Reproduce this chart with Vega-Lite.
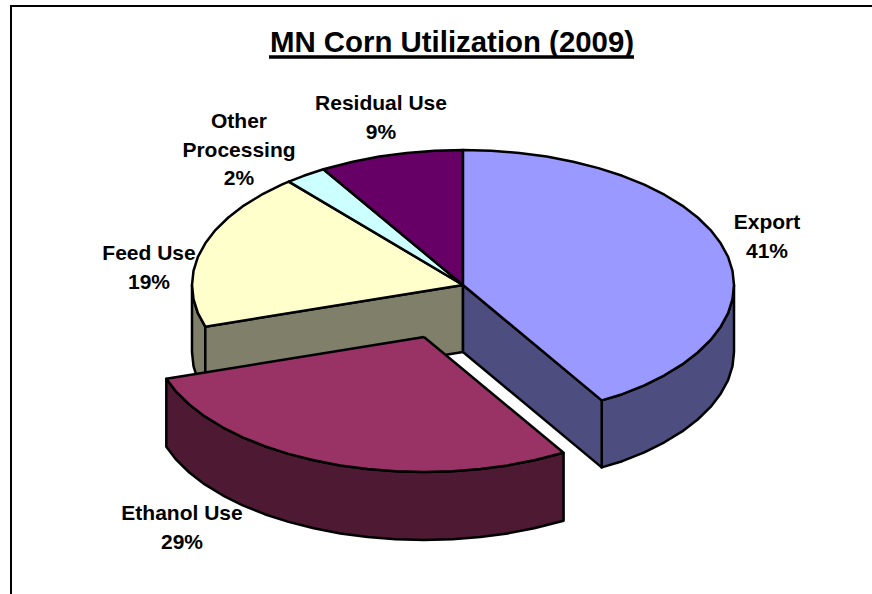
{"$schema":"https://vega.github.io/schema/vega-lite/v6.json","width":872,"height":594,"padding":0,"autosize":{"type":"none"},"background":"white","config":{"view":{"stroke":null}},
"datasets":{"shapes":[
{"p":"Feed wall","i":1,"x":205.3,"y":326.7},{"p":"Feed wall","i":2,"x":197.9,"y":313.1},{"p":"Feed wall","i":3,"x":193.5,"y":299.1},{"p":"Feed wall","i":4,"x":192,"y":285},{"p":"Feed wall","i":5,"x":192,"y":352},{"p":"Feed wall","i":6,"x":193.5,"y":366.1},{"p":"Feed wall","i":7,"x":197.9,"y":380.1},{"p":"Feed wall","i":8,"x":205.3,"y":393.7},{"p":"Feed wall","i":9,"x":205.3,"y":326.7},
{"p":"Feed cut","i":1,"x":463,"y":285},{"p":"Feed cut","i":2,"x":205.3,"y":326.7},{"p":"Feed cut","i":3,"x":205.3,"y":393.7},{"p":"Feed cut","i":4,"x":463,"y":352},{"p":"Feed cut","i":5,"x":463,"y":285},
{"p":"Feed Use","i":1,"x":463,"y":285},{"p":"Feed Use","i":2,"x":205.3,"y":326.7},{"p":"Feed Use","i":3,"x":197.9,"y":313.1},{"p":"Feed Use","i":4,"x":193.5,"y":299.1},{"p":"Feed Use","i":5,"x":192,"y":285},{"p":"Feed Use","i":6,"x":193.5,"y":270.9},{"p":"Feed Use","i":7,"x":197.9,"y":256.9},{"p":"Feed Use","i":8,"x":205.3,"y":243.3},{"p":"Feed Use","i":9,"x":215.4,"y":230.1},{"p":"Feed Use","i":10,"x":228.3,"y":217.5},{"p":"Feed Use","i":11,"x":243.8,"y":205.6},{"p":"Feed Use","i":12,"x":261.6,"y":194.7},{"p":"Feed Use","i":13,"x":281.7,"y":184.7},{"p":"Feed Use","i":14,"x":288.8,"y":181.6},{"p":"Feed Use","i":15,"x":463,"y":285},
{"p":"Other Processing","i":1,"x":463,"y":285},{"p":"Other Processing","i":2,"x":288.8,"y":181.6},{"p":"Other Processing","i":3,"x":303.7,"y":175.8},{"p":"Other Processing","i":4,"x":323.4,"y":169.3},{"p":"Other Processing","i":5,"x":463,"y":285},
{"p":"Residual Use","i":1,"x":463,"y":285},{"p":"Residual Use","i":2,"x":323.4,"y":169.3},{"p":"Residual Use","i":3,"x":352.8,"y":161.7},{"p":"Residual Use","i":4,"x":379.3,"y":156.6},{"p":"Residual Use","i":5,"x":406.7,"y":153},{"p":"Residual Use","i":6,"x":434.7,"y":150.7},{"p":"Residual Use","i":7,"x":463,"y":150},{"p":"Residual Use","i":8,"x":463,"y":285},
{"p":"Export wall","i":1,"x":734,"y":285},{"p":"Export wall","i":2,"x":732.5,"y":299.1},{"p":"Export wall","i":3,"x":728.1,"y":313.1},{"p":"Export wall","i":4,"x":720.7,"y":326.7},{"p":"Export wall","i":5,"x":710.6,"y":339.9},{"p":"Export wall","i":6,"x":697.7,"y":352.5},{"p":"Export wall","i":7,"x":682.2,"y":364.4},{"p":"Export wall","i":8,"x":664.4,"y":375.3},{"p":"Export wall","i":9,"x":644.3,"y":385.3},{"p":"Export wall","i":10,"x":622.3,"y":394.2},{"p":"Export wall","i":11,"x":601.7,"y":400.4},{"p":"Export wall","i":12,"x":601.7,"y":467.4},{"p":"Export wall","i":13,"x":622.3,"y":461.2},{"p":"Export wall","i":14,"x":644.3,"y":452.3},{"p":"Export wall","i":15,"x":664.4,"y":442.3},{"p":"Export wall","i":16,"x":682.2,"y":431.4},{"p":"Export wall","i":17,"x":697.7,"y":419.5},{"p":"Export wall","i":18,"x":710.6,"y":406.9},{"p":"Export wall","i":19,"x":720.7,"y":393.7},{"p":"Export wall","i":20,"x":728.1,"y":380.1},{"p":"Export wall","i":21,"x":732.5,"y":366.1},{"p":"Export wall","i":22,"x":734,"y":352},{"p":"Export wall","i":23,"x":734,"y":285},
{"p":"Export cut","i":1,"x":463,"y":285},{"p":"Export cut","i":2,"x":601.7,"y":400.4},{"p":"Export cut","i":3,"x":601.7,"y":467.4},{"p":"Export cut","i":4,"x":463,"y":352},{"p":"Export cut","i":5,"x":463,"y":285},
{"p":"Export","i":1,"x":463,"y":285},{"p":"Export","i":2,"x":463,"y":150},{"p":"Export","i":3,"x":491.3,"y":150.7},{"p":"Export","i":4,"x":519.3,"y":153},{"p":"Export","i":5,"x":546.7,"y":156.6},{"p":"Export","i":6,"x":573.2,"y":161.7},{"p":"Export","i":7,"x":598.5,"y":168.1},{"p":"Export","i":8,"x":622.3,"y":175.8},{"p":"Export","i":9,"x":644.3,"y":184.7},{"p":"Export","i":10,"x":664.4,"y":194.7},{"p":"Export","i":11,"x":682.2,"y":205.6},{"p":"Export","i":12,"x":697.7,"y":217.5},{"p":"Export","i":13,"x":710.6,"y":230.1},{"p":"Export","i":14,"x":720.7,"y":243.3},{"p":"Export","i":15,"x":728.1,"y":256.9},{"p":"Export","i":16,"x":732.5,"y":270.9},{"p":"Export","i":17,"x":734,"y":285},{"p":"Export","i":18,"x":732.5,"y":299.1},{"p":"Export","i":19,"x":728.1,"y":313.1},{"p":"Export","i":20,"x":720.7,"y":326.7},{"p":"Export","i":21,"x":710.6,"y":339.9},{"p":"Export","i":22,"x":697.7,"y":352.5},{"p":"Export","i":23,"x":682.2,"y":364.4},{"p":"Export","i":24,"x":664.4,"y":375.3},{"p":"Export","i":25,"x":644.3,"y":385.3},{"p":"Export","i":26,"x":622.3,"y":394.2},{"p":"Export","i":27,"x":601.7,"y":400.4},{"p":"Export","i":28,"x":463,"y":285},
{"p":"Ethanol wall","i":1,"x":563.6,"y":452.7},{"p":"Ethanol wall","i":2,"x":534.2,"y":460.3},{"p":"Ethanol wall","i":3,"x":507.7,"y":465.4},{"p":"Ethanol wall","i":4,"x":480.3,"y":469},{"p":"Ethanol wall","i":5,"x":452.3,"y":471.3},{"p":"Ethanol wall","i":6,"x":424,"y":472},{"p":"Ethanol wall","i":7,"x":395.7,"y":471.3},{"p":"Ethanol wall","i":8,"x":367.7,"y":469},{"p":"Ethanol wall","i":9,"x":340.3,"y":465.4},{"p":"Ethanol wall","i":10,"x":313.8,"y":460.3},{"p":"Ethanol wall","i":11,"x":288.5,"y":453.9},{"p":"Ethanol wall","i":12,"x":264.7,"y":446.2},{"p":"Ethanol wall","i":13,"x":242.7,"y":437.3},{"p":"Ethanol wall","i":14,"x":222.6,"y":427.3},{"p":"Ethanol wall","i":15,"x":204.8,"y":416.4},{"p":"Ethanol wall","i":16,"x":189.3,"y":404.5},{"p":"Ethanol wall","i":17,"x":176.4,"y":391.9},{"p":"Ethanol wall","i":18,"x":166.3,"y":378.7},{"p":"Ethanol wall","i":19,"x":166.3,"y":446.7},{"p":"Ethanol wall","i":20,"x":176.4,"y":459.9},{"p":"Ethanol wall","i":21,"x":189.3,"y":472.5},{"p":"Ethanol wall","i":22,"x":204.8,"y":484.4},{"p":"Ethanol wall","i":23,"x":222.6,"y":495.3},{"p":"Ethanol wall","i":24,"x":242.7,"y":505.3},{"p":"Ethanol wall","i":25,"x":264.7,"y":514.2},{"p":"Ethanol wall","i":26,"x":288.5,"y":521.9},{"p":"Ethanol wall","i":27,"x":313.8,"y":528.3},{"p":"Ethanol wall","i":28,"x":340.3,"y":533.4},{"p":"Ethanol wall","i":29,"x":367.7,"y":537},{"p":"Ethanol wall","i":30,"x":395.7,"y":539.3},{"p":"Ethanol wall","i":31,"x":424,"y":540},{"p":"Ethanol wall","i":32,"x":452.3,"y":539.3},{"p":"Ethanol wall","i":33,"x":480.3,"y":537},{"p":"Ethanol wall","i":34,"x":507.7,"y":533.4},{"p":"Ethanol wall","i":35,"x":534.2,"y":528.3},{"p":"Ethanol wall","i":36,"x":563.6,"y":520.7},{"p":"Ethanol wall","i":37,"x":563.6,"y":452.7},
{"p":"Ethanol Use","i":1,"x":424,"y":337},{"p":"Ethanol Use","i":2,"x":563.6,"y":452.7},{"p":"Ethanol Use","i":3,"x":534.2,"y":460.3},{"p":"Ethanol Use","i":4,"x":507.7,"y":465.4},{"p":"Ethanol Use","i":5,"x":480.3,"y":469},{"p":"Ethanol Use","i":6,"x":452.3,"y":471.3},{"p":"Ethanol Use","i":7,"x":424,"y":472},{"p":"Ethanol Use","i":8,"x":395.7,"y":471.3},{"p":"Ethanol Use","i":9,"x":367.7,"y":469},{"p":"Ethanol Use","i":10,"x":340.3,"y":465.4},{"p":"Ethanol Use","i":11,"x":313.8,"y":460.3},{"p":"Ethanol Use","i":12,"x":288.5,"y":453.9},{"p":"Ethanol Use","i":13,"x":264.7,"y":446.2},{"p":"Ethanol Use","i":14,"x":242.7,"y":437.3},{"p":"Ethanol Use","i":15,"x":222.6,"y":427.3},{"p":"Ethanol Use","i":16,"x":204.8,"y":416.4},{"p":"Ethanol Use","i":17,"x":189.3,"y":404.5},{"p":"Ethanol Use","i":18,"x":176.4,"y":391.9},{"p":"Ethanol Use","i":19,"x":166.3,"y":378.7},{"p":"Ethanol Use","i":20,"x":424,"y":337}
],
"frame":[{"x":11,"y":594,"i":1},{"x":11,"y":6,"i":2},{"x":872,"y":6,"i":3}],
"underline":[{"x":269,"y":57},{"x":634,"y":57}],
"labels":[{"label":"Export\n41%","x":767,"y":223},{"label":"Ethanol Use\n29%","x":182,"y":514},{"label":"Feed Use\n19%","x":149,"y":254},{"label":"Other\nProcessing\n2%","x":239,"y":122},{"label":"Residual Use\n9%","x":381,"y":104}],
"title":[{"label":"MN Corn Utilization (2009)","x":452,"y":52}]},
"encoding":{"x":{"field":"x","type":"quantitative","axis":null,"scale":{"domain":[0,872],"range":[0,872],"nice":false,"zero":false}},"y":{"field":"y","type":"quantitative","axis":null,"scale":{"domain":[0,594],"range":[0,594],"nice":false,"zero":false}}},
"layer":[
{"data":{"name":"shapes"},"mark":{"type":"line","filled":true,"stroke":"black","strokeWidth":2.5,"strokeJoin":"round","clip":false},"encoding":{"order":{"field":"i","type":"quantitative"},"color":{"field":"p","type":"nominal","legend":null,"sort":null,"scale":{"domain":["Feed wall","Feed cut","Feed Use","Other Processing","Residual Use","Export wall","Export cut","Export","Ethanol wall","Ethanol Use"],"range":["#80806A","#80806A","#FFFFCC","#CCFFFF","#660066","#4D4D7F","#4D4D7F","#9999FF","#4D1933","#993366"]}}}},
{"data":{"name":"frame"},"mark":{"type":"line","color":"black","strokeWidth":2,"strokeCap":"square"},"encoding":{"order":{"field":"i","type":"quantitative"}}},
{"data":{"name":"underline"},"mark":{"type":"line","color":"black","strokeWidth":3.5}},
{"data":{"name":"labels"},"mark":{"type":"text","font":"Liberation Sans","fontWeight":"bold","fontSize":21,"lineBreak":"\n","lineHeight":28.5,"align":"center","baseline":"middle","color":"black"},"encoding":{"text":{"field":"label"}}},
{"data":{"name":"title"},"mark":{"type":"text","font":"Liberation Sans","fontWeight":"bold","fontSize":29.4,"align":"center","baseline":"alphabetic","color":"black"},"encoding":{"text":{"field":"label"}}}
]}
